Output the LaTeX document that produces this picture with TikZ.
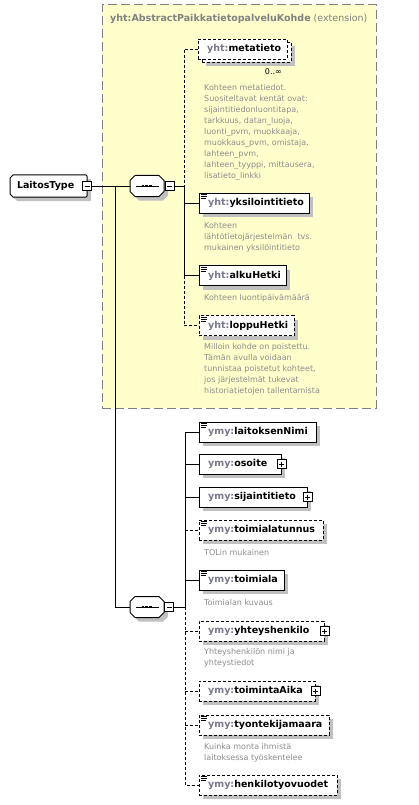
\documentclass[tikz,border=0pt]{standalone}
\usepackage{fontspec}
\setmainfont{DejaVu Sans}
\usetikzlibrary{shadows,calc}
\definecolor{extyellow}{RGB}{255,255,204}
\definecolor{extborder}{RGB}{128,128,128}
\definecolor{titlegray}{RGB}{128,128,128}
\definecolor{prefixgray}{RGB}{120,120,140}
\definecolor{descgray}{RGB}{140,140,140}
\definecolor{shadowgray}{RGB}{192,192,192}
\newcommand\nmfont{\fontsize{9.5}{11}\selectfont\bfseries}
\newcommand\dsfont{\fontsize{8}{11}\selectfont}
\newcommand\nm[2]{\mbox{\textcolor{prefixgray}{#1:}#2}}
\newcommand\annot[1]{\draw[line width=0.7pt] ([xshift=2pt,yshift=-2pt]#1.north west) -- ++(6pt,0pt) ([xshift=2pt,yshift=-4pt]#1.north west) -- ++(6pt,0pt) ([xshift=2pt,yshift=-6pt]#1.north west) -- ++(5pt,0pt);}
\pgfdeclarelayer{extl}
\pgfdeclarelayer{shpl}
\pgfsetlayers{extl,shpl,main}
\begin{document}
\begin{tikzpicture}[x=1pt,y=-1pt,line width=1pt,
  shd/.style={drop shadow={shadow xshift=4pt,shadow yshift=-4pt,fill=shadowgray,opacity=1}},
  elem/.style={draw,fill=white,anchor=west,minimum height=20pt,inner ysep=0pt,inner xsep=9pt,text width=#1,align=left,font=\nmfont,shd},
  optl/.style={dash pattern=on 3pt off 2pt},
  desc/.style={anchor=north west,inner sep=0pt,align=left,font=\dsfont,text=descgray},
  tog/.style={draw,fill=white,minimum size=9pt,inner sep=0pt,line width=0.8pt,
    path picture={\draw[line width=0.8pt] ([xshift=2pt]path picture bounding box.west) -- ([xshift=-2pt]path picture bounding box.east);}},
  togp/.style={draw,fill=white,minimum size=9pt,inner sep=0pt,line width=0.8pt,
    path picture={\draw[line width=0.8pt] ([xshift=2pt]path picture bounding box.west) -- ([xshift=-2pt]path picture bounding box.east) ([yshift=-2pt]path picture bounding box.north) -- ([yshift=2pt]path picture bounding box.south);}},
  seqn/.style={minimum width=34pt,minimum height=21pt,inner sep=0pt,outer sep=0pt},
  octp/.style 2 args={insert path={([xshift=#2]#1.north west) -- ([xshift=-#2]#1.north east) -- ([yshift=-#2]#1.north east) -- ([yshift=#2]#1.south east) -- ([xshift=-#2]#1.south east) -- ([xshift=#2]#1.south west) -- ([yshift=#2]#1.south west) -- ([yshift=-#2]#1.north west) -- cycle}},
  ltp/.style={insert path={([xshift=3pt]lt.north west) -- ([xshift=-1pt]lt.north east) -- ([yshift=-1pt]lt.north east) -- ([yshift=1pt]lt.south east) -- ([xshift=-1pt]lt.south east) -- ([xshift=3pt]lt.south west) -- ([yshift=3pt]lt.south west) -- ([yshift=-3pt]lt.north west) -- cycle}},
]
\useasboundingbox (0,0) rectangle (418,805);

% extension box
\begin{pgfonlayer}{extl}
\fill[white] (0,0) rectangle (418,805);
\node[draw=extborder,line width=1pt,fill=extyellow,dash pattern=on 9pt off 4pt,minimum width=274pt,minimum height=403pt,inner sep=0pt] (ext) at (239,206.5) {};
\end{pgfonlayer}
\node[anchor=west,inner sep=0pt,text=titlegray,font=\fontsize{9.5}{11}\selectfont] (title) at (110,19) {\textbf{yht:AbstractPaikkatietopalveluKohde} (extension)};

% LaitosType
\node[anchor=west,minimum width=77pt,minimum height=22pt,inner xsep=7pt,inner ysep=0pt,outer sep=0pt,text width=63pt,align=left,font=\nmfont] (lt) at (10,186) {LaitosType};
\begin{pgfonlayer}{shpl}
\fill[shadowgray,transform canvas={shift={(4pt,-4pt)}},ltp];
\draw[line width=1pt,fill=white,ltp];
\end{pgfonlayer}
\node[tog] (ltm) at (87,186) {};

% sequences
\node[seqn] (seq1) at (147,186) {};
\node[seqn] (seq2) at (147,607) {};
\begin{pgfonlayer}{shpl}
\fill[shadowgray,transform canvas={shift={(4pt,-4pt)}},octp={seq1}{5pt}];
\draw[line width=1pt,fill=white,octp={seq1}{5pt}];
\fill[shadowgray,transform canvas={shift={(4pt,-4pt)}},octp={seq2}{5pt}];
\draw[line width=1pt,fill=white,octp={seq2}{5pt}];
\end{pgfonlayer}
\foreach \s in {seq1,seq2}{
  \draw[line width=0.8pt] ([xshift=6pt]\s.west) -- ([xshift=-5pt]\s.east);
  \draw[line width=2.6pt,dash pattern=on 2.6pt off 1.2pt] ([xshift=-5.5pt]\s.center) -- ([xshift=5.5pt]\s.center);
}
\node[tog] (seq1m) at (169.5,186) {};
\node[tog] (seq2m) at (169,607) {};

% metatieto (repeating, optional)
\node[elem=71pt,optl] (meta2) at (202,52) {\phantom{x}};
\node[draw,fill=white,anchor=west,minimum height=20pt,inner ysep=0pt,inner xsep=9pt,text width=71pt,align=left,font=\nmfont,optl] (meta) at (198,49) {\nm{yht}{metatieto}};
\node[anchor=east,inner sep=0pt,font=\fontsize{8}{10}\selectfont] (mult) at (282,72) {0..∞};
\node[desc] (d1) at (204,84.5) {Kohteen metatiedot.\\Suositeltavat kentät ovat:\\sijaintitiedonluontitapa,\\tarkkuus, datan\_luoja,\\luonti\_pvm, muokkaaja,\\muokkaus\_pvm, omistaja,\\lahteen\_pvm,\\lahteen\_tyyppi, mittausera,\\lisatieto\_linkki};

\node[elem=92pt] (yks) at (199,203) {\nm{yht}{yksilointitieto}};
\node[desc] (d2) at (204,222.5) {Kohteen\\lähtötietojärjestelmän\ \ tvs.\\mukainen yksilöintitieto};
\node[elem=69pt] (alku) at (199,275.5) {\nm{yht}{alkuHetki}};
\node[desc] (d3) at (204,294.5) {Kohteen luontipäivämäärä};
\node[elem=77pt,optl] (loppu) at (199,325.5) {\nm{yht}{loppuHetki}};
\node[desc] (d4) at (204,343.5) {Milloin kohde on poistettu.\\Tämän avulla voidaan\\tunnistaa poistetut kohteet,\\jos järjestelmät tukevat\\historiatietojen tallentamista};

\node[elem=99pt] (nimi) at (199,432) {\nm{ymy}{laitoksenNimi}};
\node[elem=64pt] (osoite) at (199,464) {\nm{ymy}{osoite}};
\node[elem=90pt] (sijainti) at (199,497) {\nm{ymy}{sijaintitieto}};
\node[elem=106pt,optl] (tunnus) at (199,530) {\nm{ymy}{toimialatunnus}};
\node[desc] (d5) at (204,549.5) {TOLin mukainen};
\node[elem=67pt] (toimiala) at (199,580) {\nm{ymy}{toimiala}};
\node[desc] (d6) at (204,599.5) {Toimialan kuvaus};
\node[elem=107pt,optl] (yhteys) at (199,631) {\nm{ymy}{yhteyshenkilo}};
\node[desc] (d7) at (204,648.5) {Yhteyshenkilön nimi ja\\yhteystiedot};
\node[elem=98pt,optl] (aika) at (199,691) {\nm{ymy}{toimintaAika}};
\node[elem=112pt,optl] (tyont) at (199,725) {\nm{ymy}{tyontekijamaara}};
\node[desc] (d8) at (204,743.5) {Kuinka monta ihmistä\\laitoksessa työskentelee};
\node[elem=120pt,optl] (henk) at (199,785) {\nm{ymy}{henkilotyovuodet}};

% plus boxes
\node[togp] (p1) at (osoite.east) {};
\node[togp] (p2) at (sijainti.east) {};
\node[togp] (p3) at (yhteys.east) {};
\node[togp] (p4) at (aika.east) {};

% annotation icons
\annot{yks}\annot{alku}\annot{loppu}\annot{nimi}\annot{tunnus}\annot{toimiala}\annot{tyont}\annot{henk}

% connectors
\draw (ltm.east) -- (seq1.west);
\coordinate (t1) at (115,186);
\draw (t1) |- (seq2.west);
\coordinate (b1) at (184,186);
\draw (seq1m.east) -- (b1);
\draw[optl] (meta.west) -| (b1);
\draw (b1) |- (yks.west);
\draw (b1) |- (alku.west);
\draw[optl] (alku.west -| b1) |- (loppu.west);
\coordinate (b2) at (185,607);
\draw (seq2m.east) -- (b2);
\draw (nimi.west) -| (b2);
\draw (osoite.west -| b2) -- (osoite.west);
\draw (sijainti.west -| b2) -- (sijainti.west);
\draw[optl] (tunnus.west -| b2) -- (tunnus.west);
\draw (toimiala.west -| b2) -- (toimiala.west);
\draw[optl] (b2) |- (henk.west);
\draw[optl] (yhteys.west -| b2) -- (yhteys.west);
\draw[optl] (aika.west -| b2) -- (aika.west);
\draw[optl] (tyont.west -| b2) -- (tyont.west);
\end{tikzpicture}
\end{document}
